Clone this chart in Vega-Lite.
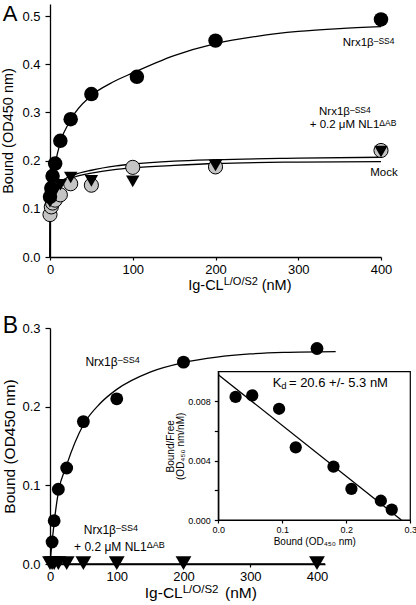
{
  "$schema": "https://vega.github.io/schema/vega-lite/v6.json",
  "background": "white",
  "padding": {"left": 0, "top": 3, "right": 0, "bottom": 0},
  "spacing": 22,
  "config": {
    "view": {"stroke": null},
    "font": "Liberation Sans",
    "axis": {"grid": false, "domainColor": "black", "domainWidth": 1.3, "tickColor": "black", "tickWidth": 1.2, "labelColor": "black", "titleColor": "black", "labelFlush": false, "labelOverlap": false, "titleFontWeight": "normal", "labelFont": "Liberation Sans", "titleFont": "Liberation Sans"},
    "text": {"font": "Liberation Sans", "color": "black"}
  },
  "datasets": {
    "ptsA": [
      {"s": "nrx", "conc": 0, "od": 0.125}, {"s": "nrx", "conc": 1.5625, "od": 0.143}, {"s": "nrx", "conc": 3.125, "od": 0.168}, {"s": "nrx", "conc": 6.25, "od": 0.194}, {"s": "nrx", "conc": 12.5, "od": 0.241}, {"s": "nrx", "conc": 25, "od": 0.286}, {"s": "nrx", "conc": 50, "od": 0.338}, {"s": "nrx", "conc": 105, "od": 0.374}, {"s": "nrx", "conc": 200, "od": 0.449}, {"s": "nrx", "conc": 400, "od": 0.493},
      {"s": "mock", "conc": 0, "od": 0.088}, {"s": "mock", "conc": 1.5625, "od": 0.104}, {"s": "mock", "conc": 3.125, "od": 0.112}, {"s": "mock", "conc": 6.25, "od": 0.118}, {"s": "mock", "conc": 12.5, "od": 0.129}, {"s": "mock", "conc": 25, "od": 0.152}, {"s": "mock", "conc": 50, "od": 0.149}, {"s": "mock", "conc": 100, "od": 0.186}, {"s": "mock", "conc": 200, "od": 0.187}, {"s": "mock", "conc": 400, "od": 0.221},
      {"s": "nl1", "conc": 0, "od": 0.115}, {"s": "nl1", "conc": 1.5625, "od": 0.125}, {"s": "nl1", "conc": 3.125, "od": 0.132}, {"s": "nl1", "conc": 6.25, "od": 0.138}, {"s": "nl1", "conc": 12.5, "od": 0.15}, {"s": "nl1", "conc": 25, "od": 0.165}, {"s": "nl1", "conc": 50, "od": 0.158}, {"s": "nl1", "conc": 100, "od": 0.157}, {"s": "nl1", "conc": 200, "od": 0.19}, {"s": "nl1", "conc": 400, "od": 0.219}
    ],
    "curveA": [
      {"s": "nrx", "conc": 0, "od": 0}, {"s": "nrx", "conc": 0.2, "od": 0.1}, {"s": "nrx", "conc": 0.6, "od": 0.125}, {"s": "nrx", "conc": 1.5, "od": 0.145}, {"s": "nrx", "conc": 3, "od": 0.165}, {"s": "nrx", "conc": 6, "od": 0.192}, {"s": "nrx", "conc": 12.5, "od": 0.238}, {"s": "nrx", "conc": 25, "od": 0.285}, {"s": "nrx", "conc": 50, "od": 0.335}, {"s": "nrx", "conc": 75, "od": 0.362}, {"s": "nrx", "conc": 100, "od": 0.382}, {"s": "nrx", "conc": 150, "od": 0.418}, {"s": "nrx", "conc": 200, "od": 0.443}, {"s": "nrx", "conc": 250, "od": 0.458}, {"s": "nrx", "conc": 300, "od": 0.468}, {"s": "nrx", "conc": 350, "od": 0.474}, {"s": "nrx", "conc": 400, "od": 0.478},
      {"s": "nl1", "conc": 0, "od": 0}, {"s": "nl1", "conc": 0.2, "od": 0.095}, {"s": "nl1", "conc": 1, "od": 0.118}, {"s": "nl1", "conc": 3, "od": 0.132}, {"s": "nl1", "conc": 7, "od": 0.146}, {"s": "nl1", "conc": 15, "od": 0.159}, {"s": "nl1", "conc": 30, "od": 0.171}, {"s": "nl1", "conc": 50, "od": 0.18}, {"s": "nl1", "conc": 80, "od": 0.189}, {"s": "nl1", "conc": 100, "od": 0.193}, {"s": "nl1", "conc": 150, "od": 0.199}, {"s": "nl1", "conc": 200, "od": 0.202}, {"s": "nl1", "conc": 300, "od": 0.205}, {"s": "nl1", "conc": 400, "od": 0.207},
      {"s": "mock", "conc": 0, "od": 0}, {"s": "mock", "conc": 0.2, "od": 0.09}, {"s": "mock", "conc": 1, "od": 0.113}, {"s": "mock", "conc": 3, "od": 0.127}, {"s": "mock", "conc": 7, "od": 0.141}, {"s": "mock", "conc": 15, "od": 0.154}, {"s": "mock", "conc": 30, "od": 0.166}, {"s": "mock", "conc": 50, "od": 0.174}, {"s": "mock", "conc": 80, "od": 0.182}, {"s": "mock", "conc": 100, "od": 0.185}, {"s": "mock", "conc": 150, "od": 0.19}, {"s": "mock", "conc": 200, "od": 0.194}, {"s": "mock", "conc": 300, "od": 0.197}, {"s": "mock", "conc": 400, "od": 0.198}
    ],
    "labA": [
      {"main": "Nrx1β", "sup": "–SS4", "conc": 391.2, "od": 0.445},
      {"main": "Nrx1β", "sup": "–SS4", "conc": 362.5, "od": 0.3},
      {"main": "+ 0.2 μM NL1", "sup": "ΔAB", "conc": 398, "od": 0.273},
      {"main": "Mock", "sup": "", "conc": 420.2, "od": 0.175}
    ],
    "xtA": [
      {"piece": "Ig-CL", "role": "r", "conc": 209.9, "od": 0},
      {"piece": "L/O/S2", "role": "s", "conc": 209.9, "od": 0},
      {"piece": "(nM)", "role": "l", "conc": 255.8, "od": 0}
    ],
    "panelA": [{"t": "A", "conc": 0, "od": 0.525}],
    "ptsB": [
      {"s": "nrx", "conc": 3.125, "od": 0.028}, {"s": "nrx", "conc": 6.25, "od": 0.055}, {"s": "nrx", "conc": 12.5, "od": 0.095}, {"s": "nrx", "conc": 25, "od": 0.122}, {"s": "nrx", "conc": 50, "od": 0.181}, {"s": "nrx", "conc": 100, "od": 0.21}, {"s": "nrx", "conc": 200, "od": 0.2566}, {"s": "nrx", "conc": 400, "od": 0.274},
      {"s": "nl1", "conc": 0, "od": 0.001}, {"s": "nl1", "conc": 3.125, "od": 0.001}, {"s": "nl1", "conc": 6.25, "od": 0.001}, {"s": "nl1", "conc": 12.5, "od": 0.001}, {"s": "nl1", "conc": 25, "od": 0.001}, {"s": "nl1", "conc": 50, "od": 0.001}, {"s": "nl1", "conc": 100, "od": 0.001}, {"s": "nl1", "conc": 200, "od": 0.001}, {"s": "nl1", "conc": 400, "od": 0.001}
    ],
    "curveB": [
      {"s": "nrx", "conc": 0, "od": 0}, {"s": "nrx", "conc": 1, "od": 0.01}, {"s": "nrx", "conc": 3.125, "od": 0.028}, {"s": "nrx", "conc": 6.25, "od": 0.053}, {"s": "nrx", "conc": 12.5, "od": 0.091}, {"s": "nrx", "conc": 25, "od": 0.126}, {"s": "nrx", "conc": 50, "od": 0.177}, {"s": "nrx", "conc": 75, "od": 0.204}, {"s": "nrx", "conc": 100, "od": 0.222}, {"s": "nrx", "conc": 150, "od": 0.244}, {"s": "nrx", "conc": 200, "od": 0.256}, {"s": "nrx", "conc": 250, "od": 0.263}, {"s": "nrx", "conc": 300, "od": 0.267}, {"s": "nrx", "conc": 350, "od": 0.269}, {"s": "nrx", "conc": 428, "od": 0.27},
      {"s": "nl1", "conc": 0, "od": 0}, {"s": "nl1", "conc": 412, "od": 0}
    ],
    "labB": [
      {"main": "Nrx1β", "sup": "–SS4", "conc": 101.4, "od": 0.257},
      {"main": "Nrx1β", "sup": "–SS4", "conc": 98.9, "od": 0.0433},
      {"main": "+ 0.2 μM NL1", "sup": "ΔAB", "conc": 144.9, "od": 0.022}
    ],
    "xtB": [
      {"piece": "Ig-CL", "role": "r", "conc": 198.8, "od": 0},
      {"piece": "L/O/S2", "role": "s", "conc": 198.8, "od": 0},
      {"piece": "(nM)", "role": "l", "conc": 262.2, "od": 0}
    ],
    "panelB": [{"t": "B", "conc": 0, "od": 0.3}],
    "scat": [
      {"b": 0.027, "bf": 0.0083}, {"b": 0.053, "bf": 0.0084}, {"b": 0.095, "bf": 0.0075}, {"b": 0.121, "bf": 0.0049}, {"b": 0.18, "bf": 0.0036}, {"b": 0.208, "bf": 0.0021}, {"b": 0.254, "bf": 0.0013}, {"b": 0.271, "bf": 0.0007}
    ],
    "scatLine": [{"b": 0, "bf": 0.0098}, {"b": 0.286, "bf": 0}],
    "frame": [{"b": 0, "bf": 0, "b2": 0.3, "bf2": 0.01}],
    "kd": [{"k": "K", "d": "d", "rest": "= 20.6 +/- 5.3 nM", "b": 0.0985, "bf": 0.00922}]
  },
  "vconcat": [
    {
      "width": 331,
      "height": 253,
      "encoding": {
        "x": {"field": "conc", "type": "quantitative", "scale": {"domain": [0, 400], "nice": false, "zero": false}, "axis": {"values": [0, 100, 200, 300, 400], "title": null, "tickSize": 3, "labelFontSize": 13, "labelPadding": 3.5}},
        "y": {"field": "od", "type": "quantitative", "scale": {"domain": [0, 0.525], "nice": false}, "axis": {"values": [0, 0.1, 0.2, 0.3, 0.4, 0.5], "format": ".1f", "title": "Bound (OD450 nm)", "titleFontSize": 14.5, "titlePadding": 6, "tickSize": 5, "labelPadding": 5, "labelFontSize": 13}}
      },
      "layer": [
        {"data": {"name": "curveA"}, "mark": {"type": "line", "interpolate": "monotone", "color": "black", "strokeWidth": 1.3}, "encoding": {"detail": {"field": "s"}}},
        {"data": {"name": "ptsA"}, "transform": [{"filter": "datum.s === 'mock'"}], "mark": {"type": "circle", "size": 200, "fill": "#c4c4c4", "stroke": "black", "strokeWidth": 1, "opacity": 1}},
        {"data": {"name": "ptsA"}, "transform": [{"filter": "datum.s === 'nl1'"}], "mark": {"type": "point", "shape": "triangle-down", "filled": true, "color": "black", "size": 180, "opacity": 1}},
        {"data": {"name": "ptsA"}, "transform": [{"filter": "datum.s === 'nrx'"}], "mark": {"type": "circle", "size": 210, "color": "black", "opacity": 1}},
        {"data": {"name": "labA"}, "mark": {"type": "text", "align": "right", "baseline": "middle", "fontSize": 11.5}, "encoding": {"text": {"field": "main"}}},
        {"data": {"name": "labA"}, "mark": {"type": "text", "align": "left", "baseline": "middle", "fontSize": 8.5, "dy": -2}, "encoding": {"text": {"field": "sup"}}},
        {"data": {"name": "xtA"}, "transform": [{"filter": "datum.role === 'r'"}], "mark": {"type": "text", "align": "right", "baseline": "alphabetic", "fontSize": 14.5, "dy": 33}, "encoding": {"text": {"field": "piece"}}},
        {"data": {"name": "xtA"}, "transform": [{"filter": "datum.role === 's'"}], "mark": {"type": "text", "align": "left", "baseline": "alphabetic", "fontSize": 11, "dy": 28}, "encoding": {"text": {"field": "piece"}}},
        {"data": {"name": "xtA"}, "transform": [{"filter": "datum.role === 'l'"}], "mark": {"type": "text", "align": "left", "baseline": "alphabetic", "fontSize": 14.5, "dy": 33}, "encoding": {"text": {"field": "piece"}}},
        {"data": {"name": "panelA"}, "mark": {"type": "text", "align": "left", "baseline": "alphabetic", "fontSize": 22, "dx": -47.3, "dy": 17}, "encoding": {"text": {"field": "t"}}}
      ]
    },
    {
      "width": 275,
      "height": 236,
      "layer": [
        {
          "encoding": {
            "x": {"field": "conc", "type": "quantitative", "scale": {"domain": [0, 412], "nice": false, "zero": false}, "axis": {"values": [0, 100, 200, 300, 400], "title": null, "tickSize": 3, "labelFontSize": 13, "labelPadding": 3.5}},
            "y": {"field": "od", "type": "quantitative", "scale": {"domain": [0, 0.3], "nice": false}, "axis": {"values": [0, 0.1, 0.2, 0.3], "format": ".1f", "title": "Bound (OD450 nm)", "titleFontSize": 15.5, "titlePadding": 4, "tickSize": 5, "labelPadding": 5, "labelFontSize": 13}}
          },
          "layer": [
            {"data": {"name": "curveB"}, "mark": {"type": "line", "interpolate": "monotone", "color": "black", "strokeWidth": 1.3}, "encoding": {"detail": {"field": "s"}}},
            {"data": {"name": "ptsB"}, "transform": [{"filter": "datum.s === 'nl1'"}], "mark": {"type": "point", "shape": "triangle-down", "filled": true, "color": "black", "size": 250, "opacity": 1}},
            {"data": {"name": "ptsB"}, "transform": [{"filter": "datum.s === 'nrx'"}], "mark": {"type": "circle", "size": 165, "color": "black", "opacity": 1}},
            {"data": {"name": "labB"}, "mark": {"type": "text", "align": "right", "baseline": "middle", "fontSize": 12}, "encoding": {"text": {"field": "main"}}},
            {"data": {"name": "labB"}, "mark": {"type": "text", "align": "left", "baseline": "middle", "fontSize": 9, "dy": -2}, "encoding": {"text": {"field": "sup"}}},
            {"data": {"name": "xtB"}, "transform": [{"filter": "datum.role === 'r'"}], "mark": {"type": "text", "align": "right", "baseline": "alphabetic", "fontSize": 15.5, "dy": 34}, "encoding": {"text": {"field": "piece"}}},
            {"data": {"name": "xtB"}, "transform": [{"filter": "datum.role === 's'"}], "mark": {"type": "text", "align": "left", "baseline": "alphabetic", "fontSize": 11.5, "dy": 29}, "encoding": {"text": {"field": "piece"}}},
            {"data": {"name": "xtB"}, "transform": [{"filter": "datum.role === 'l'"}], "mark": {"type": "text", "align": "left", "baseline": "alphabetic", "fontSize": 15.5, "dy": 34}, "encoding": {"text": {"field": "piece"}}},
            {"data": {"name": "panelB"}, "mark": {"type": "text", "align": "left", "baseline": "alphabetic", "fontSize": 23, "dx": -47.3, "dy": 5}, "encoding": {"text": {"field": "t"}}}
          ]
        },
        {
          "encoding": {
            "x": {"field": "b", "type": "quantitative", "scale": {"domain": [0, 0.3], "range": [168.3, 360.3], "nice": false, "zero": false}, "axis": {"orient": "bottom", "offset": -44, "values": [0, 0.1, 0.2, 0.3], "format": ".1f", "title": "Bound (OD₄₅₀ nm)", "titleFontSize": 10, "titlePadding": 2, "tickSize": 3, "labelFontSize": 9, "labelPadding": 2, "domainWidth": 1.2}},
            "y": {"field": "bf", "type": "quantitative", "scale": {"domain": [0, 0.01], "range": [192, 43.7], "nice": false}, "axis": {"orient": "left", "offset": -168.3, "values": [0, 0.002, 0.004, 0.006, 0.008], "format": ".3f", "labelExpr": "abs(datum.value - 0.002) < 1e-6 || abs(datum.value - 0.006) < 1e-6 ? '' : datum.label", "title": ["Bound/Free", "(OD₄₅₀ nm/nM)"], "titleFontSize": 10, "titleLineHeight": 10.5, "titlePadding": 2, "tickSize": 4, "labelFontSize": 9, "labelPadding": 4, "domainWidth": 1.2}}
          },
          "layer": [
            {"data": {"name": "frame"}, "mark": {"type": "rect", "fill": null, "stroke": "black", "strokeWidth": 1.2}, "encoding": {"x2": {"field": "b2"}, "y2": {"field": "bf2"}}},
            {"data": {"name": "scatLine"}, "mark": {"type": "line", "color": "black", "strokeWidth": 1.3}},
            {"data": {"name": "scat"}, "mark": {"type": "circle", "size": 150, "color": "black", "opacity": 1}},
            {"data": {"name": "kd"}, "mark": {"type": "text", "align": "right", "baseline": "middle", "fontSize": 13}, "encoding": {"text": {"field": "k"}}},
            {"data": {"name": "kd"}, "mark": {"type": "text", "align": "left", "baseline": "middle", "fontSize": 9.5, "dy": 3}, "encoding": {"text": {"field": "d"}}},
            {"data": {"name": "kd"}, "mark": {"type": "text", "align": "left", "baseline": "middle", "fontSize": 13, "dx": 7.6}, "encoding": {"text": {"field": "rest"}}}
          ]
        }
      ],
      "resolve": {"scale": {"x": "independent", "y": "independent"}}
    }
  ]
}
